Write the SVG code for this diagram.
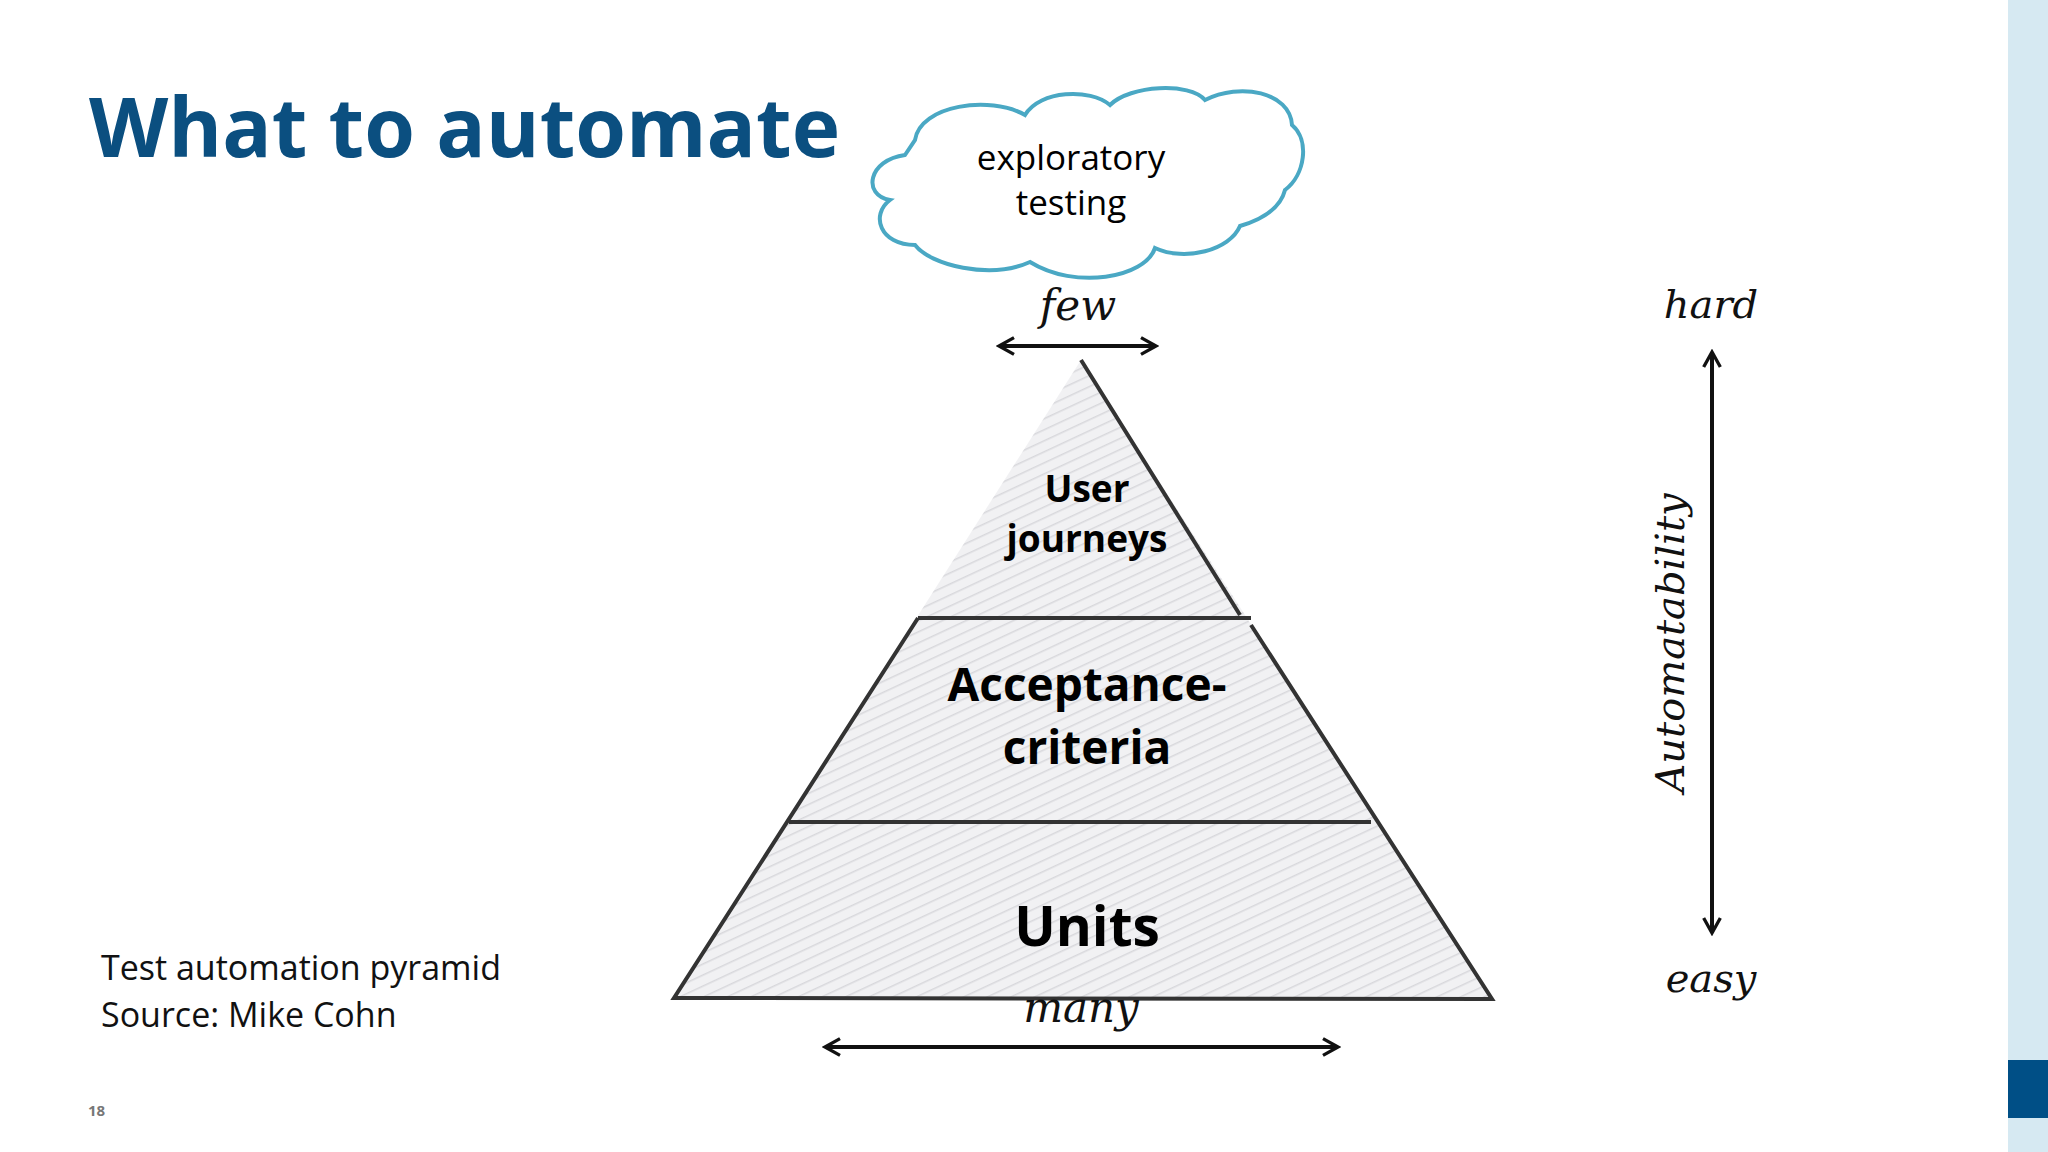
<svg xmlns="http://www.w3.org/2000/svg" width="2048" height="1152" viewBox="0 0 2048 1152">
<style>
.hand{font-family:"DejaVu Serif",serif;font-style:italic;fill:#111}
.lbl{font-family:"Open Sans","Liberation Sans",sans-serif;fill:#000;text-anchor:middle}
.arr{stroke:#111;stroke-width:4;fill:none;marker-start:url(#ah);marker-end:url(#ah)}
.edge{stroke:#333;stroke-width:4;fill:none}
</style>
<defs>
<marker id="ah" viewBox="0 0 12 12" refX="10" refY="6" markerWidth="5" markerHeight="5" orient="auto-start-reverse"><path d="M1 1 L10 6 L1 11" fill="none" stroke="#111" stroke-width="2"/></marker>
<pattern id="hatch" width="10" height="10" patternUnits="userSpaceOnUse" patternTransform="rotate(-25)"><rect width="10" height="10" fill="#f1f1f3"/><line x1="0" y1="0" x2="10" y2="0" stroke="#d8d8dc" stroke-width="3"/></pattern>
</defs>
<rect width="2048" height="1152" fill="#fff"/>
<rect x="2008" y="0" width="40" height="1152" fill="#d6e9f2"/>
<rect x="2008" y="1060" width="40" height="58" fill="#004f86"/>
<text x="89" y="157" font-family="Open Sans,Liberation Sans,sans-serif" font-weight="bold" font-size="82" fill="#0b4f80">What to automate</text>
<g id="cloud">
<path d="M915 140 C920 105 990 95 1025 115 C1040 90 1090 88 1110 105 C1130 85 1190 82 1205 100 C1240 82 1290 92 1292 125 C1310 140 1305 175 1285 190 C1280 210 1260 220 1240 226 C1230 250 1185 262 1155 248 C1145 278 1075 290 1030 262 C990 280 930 265 915 245 C880 245 870 215 890 200 C862 195 868 160 905 155 Z" fill="#fff" stroke="#4aa8c4" stroke-width="4"/>
<text class="lbl" x="1071" y="170" font-size="35">exploratory</text>
<text class="lbl" x="1071" y="215" font-size="35">testing</text>
</g>
<g id="pyramid">
<path d="M1081 360 L1492 999 L674 998 Z" fill="url(#hatch)"/>
<path class="edge" d="M1081 360 L1240 615 M1251 625 L1492 999 L674 998 L918 618 M789 822 L1371 822 M918 618 L1251 618" />
<text class="lbl" x="1087" y="502" font-size="37" font-weight="bold">User</text>
<text class="lbl" x="1087" y="552" font-size="37" font-weight="bold">journeys</text>
<text class="lbl" x="1087" y="701" font-size="46" font-weight="bold">Acceptance-</text>
<text class="lbl" x="1087" y="764" font-size="46" font-weight="bold">criteria</text>
<text class="lbl" x="1087" y="946" font-size="55" font-weight="bold">Units</text>
</g>
<g id="connectors">
<line class="arr" x1="999" y1="346" x2="1156" y2="346"/>
<line class="arr" x1="825" y1="1047" x2="1338" y2="1047"/>
<line class="arr" x1="1712" y1="352" x2="1712" y2="933"/>
</g>
<text class="hand" x="1078" y="320" font-size="42" text-anchor="middle">few</text>
<text class="hand" x="1081" y="1022" font-size="42" text-anchor="middle">many</text>
<text class="hand" x="1711" y="318" font-size="40" text-anchor="middle">hard</text>
<text class="hand" x="1711" y="992" font-size="40" text-anchor="middle">easy</text>
<text class="hand" x="0" y="0" font-size="40" text-anchor="middle" transform="translate(1684 643) rotate(-90)">Automatability</text>
<text x="101" y="980" font-family="Open Sans,Liberation Sans,sans-serif" font-size="34" fill="#111">Test automation pyramid</text>
<text x="101" y="1027" font-family="Open Sans,Liberation Sans,sans-serif" font-size="34" fill="#111">Source: Mike Cohn</text>
<text x="88" y="1116" font-family="Open Sans,Liberation Sans,sans-serif" font-size="15" font-weight="bold" fill="#777">18</text>
</svg>
